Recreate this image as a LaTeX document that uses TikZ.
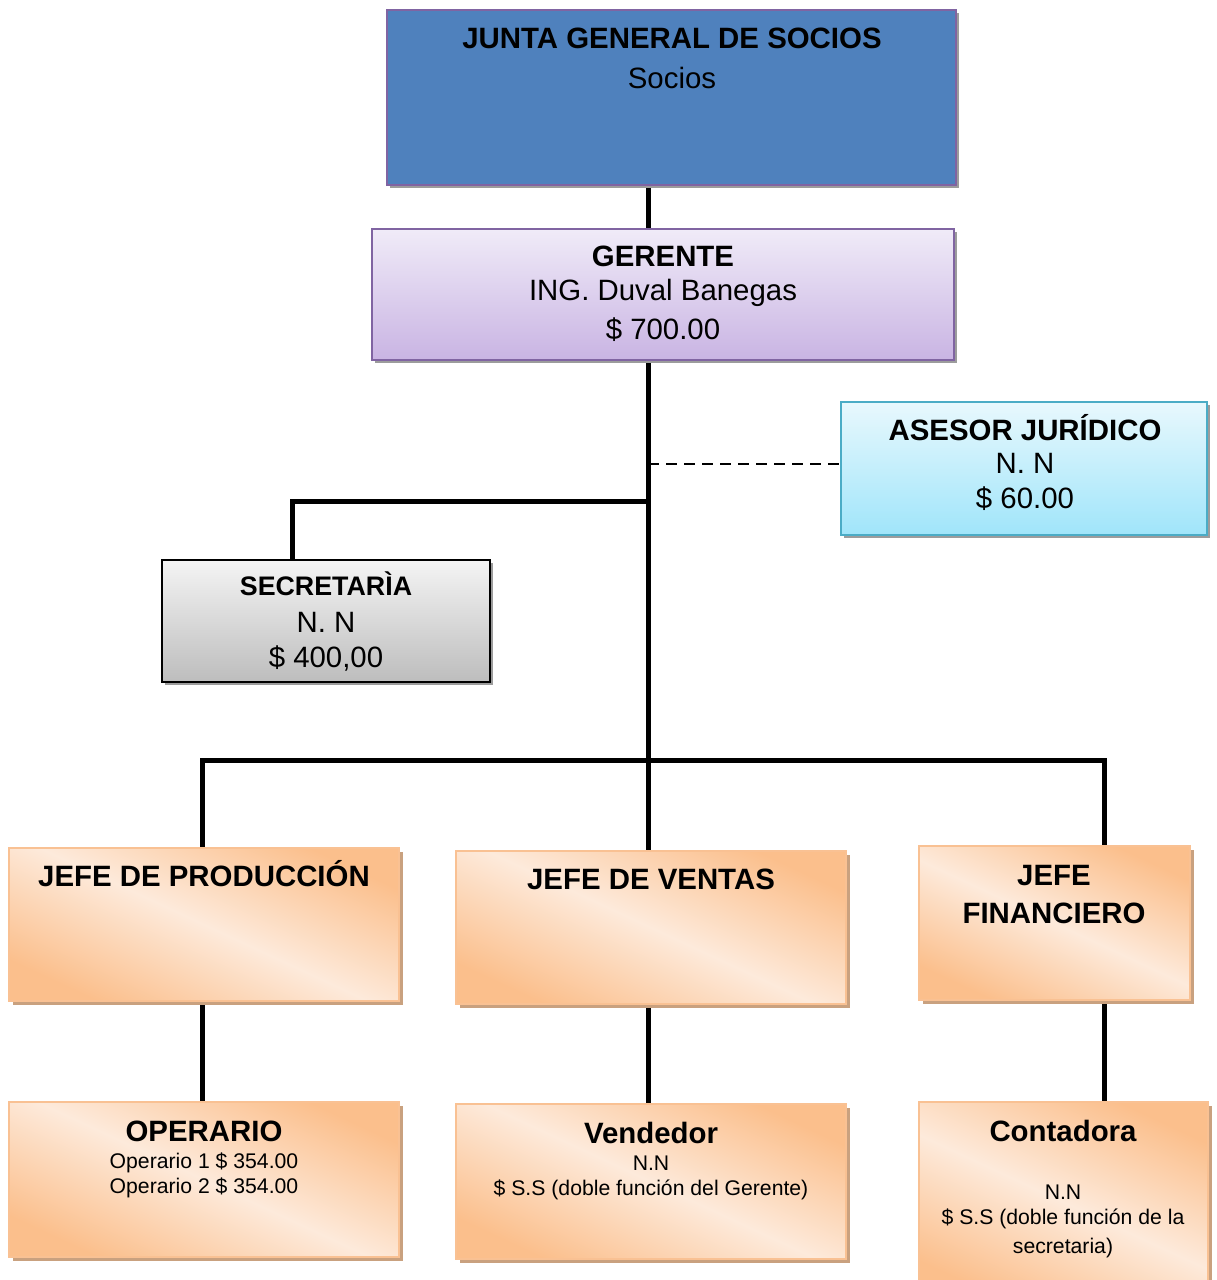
\documentclass[tikz,border=0pt]{standalone}
\usepackage{fontspec}
\setmainfont{Liberation Sans}
\usetikzlibrary{shadows,backgrounds}

\definecolor{jgsblue}{HTML}{4F81BD}
\definecolor{violetedge}{HTML}{8064A2}
\definecolor{lilactop}{HTML}{F0EBF8}
\definecolor{lilacbot}{HTML}{C9B4E3}
\definecolor{cyantop}{HTML}{E8F8FD}
\definecolor{cyanbot}{HTML}{A0E5FA}
\definecolor{cyanedge}{HTML}{4BACC6}
\definecolor{greytop}{HTML}{F4F4F4}
\definecolor{greybot}{HTML}{BDBDBD}
\definecolor{peach}{HTML}{FBBF8C}
\definecolor{peachlight}{HTML}{FDEADB}
\definecolor{peachedge}{HTML}{F9C193}
\definecolor{peachshadow}{HTML}{C9A17F}
\definecolor{plainshadow}{HTML}{9C9C9C}

\begin{document}
\begin{tikzpicture}[x=1pt,y=-1pt,
  box/.style={draw, inner sep=0pt, outer sep=0pt, line width=1.5pt},
  greyshadow/.style={drop shadow={shadow xshift=3pt, shadow yshift=-3pt, fill=plainshadow, opacity=1}},
  topbox/.style={box, draw=violetedge, fill=jgsblue, greyshadow},
  lilacbox/.style={box, draw=violetedge, top color=lilactop, bottom color=lilacbot, greyshadow},
  cyanbox/.style={box, draw=cyanedge, top color=cyantop, bottom color=cyanbot, greyshadow},
  greybox/.style={box, draw=black, top color=greytop, bottom color=greybot, greyshadow},
  peachbox/.style={box, draw=peachedge,
    top color=peach, bottom color=peach, middle color=peachlight, shading angle=-25,
    drop shadow={shadow xshift=4pt, shadow yshift=-4pt, fill=peachshadow, opacity=1}},
  big/.style={inner sep=0pt, anchor=base, font=\fontsize{29.4}{34}\selectfont},
  bigb/.style={big, font=\fontsize{29.4}{34}\selectfont\bfseries},
  small/.style={inner sep=0pt, anchor=base, font=\fontsize{21.2}{25}\selectfont},
  link/.style={line width=5pt, line join=miter},
  adviser/.style={line width=2pt, dash pattern=on 11pt off 7pt}
]
\useasboundingbox (0,0) rectangle (1217,1280);

% ---- boxes ----
\node[topbox,   minimum width=569pt, minimum height=175pt] (jgs)  at (671.5,97.5)  {};
\node[lilacbox, minimum width=582pt, minimum height=131pt] (ger)  at (663,294.5)   {};
\node[cyanbox,  minimum width=366pt, minimum height=133pt] (ase)  at (1024,468.5)  {};
\node[greybox,  minimum width=328pt, minimum height=122pt] (sec)  at (326,621)     {};
\node[peachbox, minimum width=390pt, minimum height=153pt] (prod) at (204,924.5)   {};
\node[peachbox, minimum width=390pt, minimum height=153pt] (vent) at (651,927.5)   {};
\node[peachbox, minimum width=271pt, minimum height=154pt] (fin)  at (1054.5,923)  {};
\node[peachbox, minimum width=390pt, minimum height=155pt] (ope)  at (204,1179.5)  {};
\node[peachbox, minimum width=390pt, minimum height=155pt] (vend) at (651,1181.5)  {};
\node[peachbox, minimum width=289pt, minimum height=200pt] (cont) at (1063.5,1202) {};

% ---- junction points of the connectors ----
\coordinate (busC) at (648,760);
\coordinate (busL) at (202,760);
\coordinate (busR) at (1104,760);
\coordinate (secJ) at (648,501);
\coordinate (secL) at (292,501);
\coordinate (aseJ) at (648,464);

% ---- connectors ----
\begin{scope}[on background layer]
  \draw[link] (jgs.south -| busC) -- (ger.north -| busC);
  \draw[link] (ger.south -| busC) -- (busC);
  \draw[link] (secJ) -- (secL) -- (sec.north -| secL);
  \draw[adviser] (aseJ) -- (ase.west |- aseJ);
  \draw[link] (prod.north -| busL) -- (busL) -- (busR) -- (fin.north -| busR);
  \draw[link] (busC) -- (vent.north -| busC);
  \draw[link] (prod.south -| busL) -- (ope.north -| busL);
  \draw[link] (vent.south -| busC) -- (vend.north -| busC);
  \draw[link] (fin.south -| busR) -- (cont.north -| busR);
\end{scope}

% ---- texts ----
\node[bigb] (jgsT1) at (672,48) {JUNTA GENERAL DE SOCIOS};
\node[big]  (jgsT2) at (672,88) {Socios};

\node[bigb] (gerT1) at (663,266) {GERENTE};
\node[big]  (gerT2) at (663,300) {ING. Duval Banegas};
\node[big]  (gerT3) at (663,339) {\$ 700.00};

\node[bigb] (aseT1) at (1025,440) {ASESOR JURÍDICO};
\node[big]  (aseT2) at (1025,473) {N. N};
\node[big]  (aseT3) at (1025,508) {\$ 60.00};

\node[bigb, font=\fontsize{26.8}{32}\selectfont\bfseries] (secT1) at (326,595) {SECRETARÌA};
\node[big]  (secT2) at (326,632) {N. N};
\node[big]  (secT3) at (326,667) {\$ 400,00};

\node[bigb] (prodT) at (204,886) {JEFE DE PRODUCCIÓN};
\node[bigb] (ventT) at (651,889) {JEFE DE VENTAS};
\node[bigb] (finT1) at (1054,885) {JEFE};
\node[bigb] (finT2) at (1054,923) {FINANCIERO};

\node[bigb]  (opeT1) at (204,1141) {OPERARIO};
\node[small] (opeT2) at (204,1168) {Operario 1 \$ 354.00};
\node[small] (opeT3) at (204,1193) {Operario 2 \$ 354.00};

\node[bigb]  (vendT1) at (651,1143) {Vendedor};
\node[small] (vendT2) at (651,1170) {N.N};
\node[small] (vendT3) at (651,1195) {\$ S.S (doble función del Gerente)};

\node[bigb]  (contT1) at (1063,1141) {Contadora};
\node[small] (contT2) at (1063,1199) {N.N};
\node[small] (contT3) at (1063,1224) {\$ S.S (doble función de la};
\node[small] (contT4) at (1063,1253) {secretaria)};
\end{tikzpicture}
\end{document}
